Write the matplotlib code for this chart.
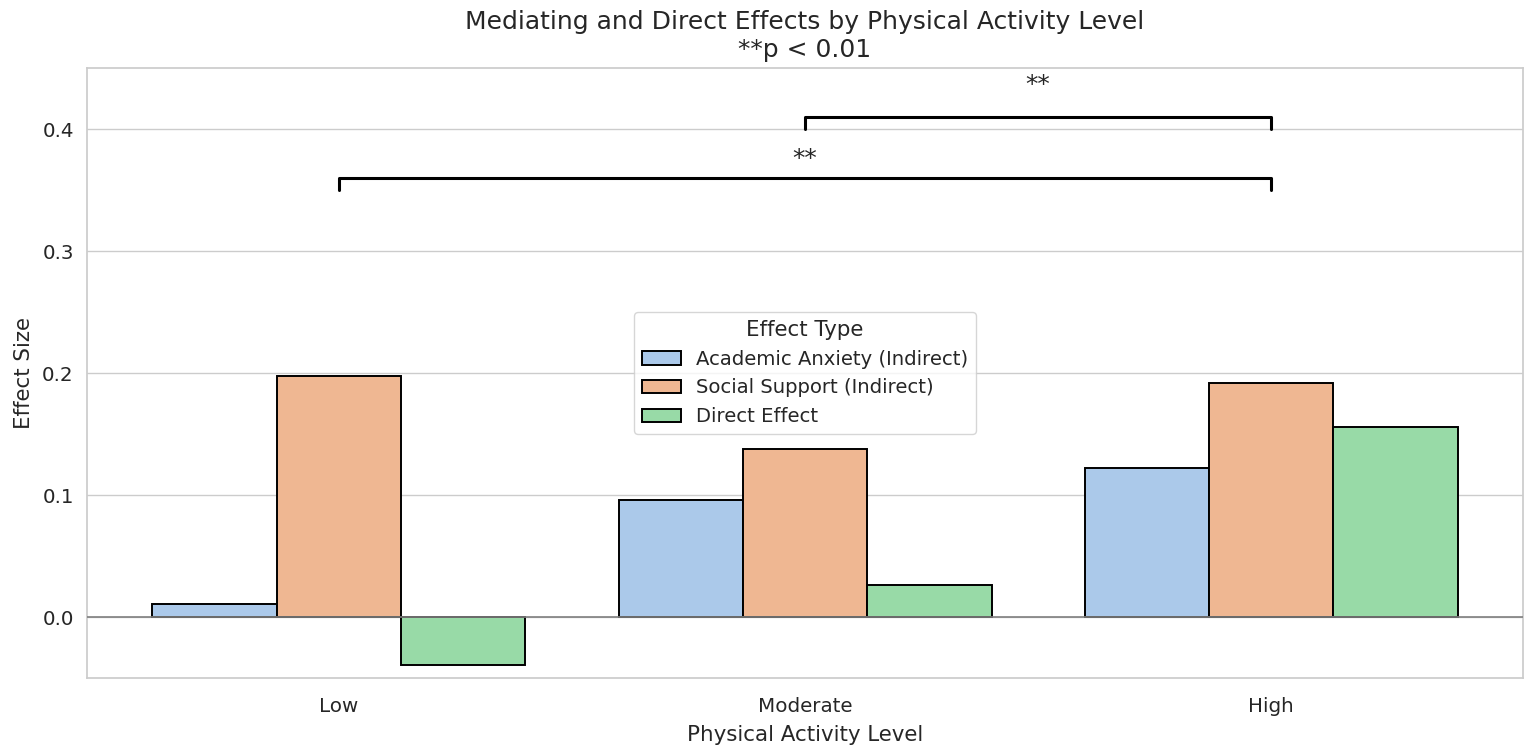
import numpy as np
import matplotlib
matplotlib.use("Agg")
import matplotlib.pyplot as plt
import seaborn as sns

niveles = ["Low", "Moderate", "High"]
efectos = ["Academic Anxiety (Indirect)", "Social Support (Indirect)", "Direct Effect"]
ansiedad = [0.011, 0.096, 0.122]
apoyo = [0.198, 0.138, 0.192]
directo = [-0.039, 0.026, 0.156]

sns.set_theme(style="whitegrid")
plt.rcParams['font.family'] = ['DejaVu Sans']
# barplot de seaborn desatura los colores a 0.75
colores = [sns.desaturate(c, 0.75) for c in sns.color_palette("pastel")]

fig = plt.figure(figsize=(15.35, 7.52), dpi=100)
ax = fig.add_axes([0.0567, 0.0984, 0.9355, 0.811])

x = np.arange(len(niveles))
ancho = 0.8 / 3
for i, (serie, nombre) in enumerate(zip([ansiedad, apoyo, directo], efectos)):
	ax.bar(x + (i - 1) * ancho, serie, width=ancho, color=colores[i], edgecolor="black",
		linewidth=1.4, label=nombre, zorder=3)

ax.axhline(0, color="gray", linewidth=1.2, zorder=4)

# brackets de significancia
def bracket(x1, x2, y, ytexto, h=0.01):
	ax.plot([x1, x1, x2, x2], [y - h, y, y, y - h], color="black", linewidth=2.2, zorder=5)
	ax.text((x1 + x2) / 2, ytexto, "**", ha="center", va="bottom", fontsize=18)

bracket(0, 2, 0.36, 0.366)
bracket(1, 2, 0.41, 0.426)

ax.set_xlim(-0.54, 2.54)
ax.set_ylim(-0.05, 0.45)
ax.set_xticks(x)
ax.set_xticklabels(niveles)
ax.set_yticks([0.0, 0.1, 0.2, 0.3, 0.4])
ax.tick_params(labelsize=14.3)
ax.tick_params(axis="x", pad=8)
ax.set_xlabel("Physical Activity Level", fontsize=15.4, labelpad=6)
ax.set_ylabel("Effect Size", fontsize=15.4, labelpad=6)
ax.set_title("Mediating and Direct Effects by Physical Activity Level\n**p < 0.01", fontsize=18, pad=8)
ax.grid(axis="x", visible=False)
for s in ax.spines.values():
	s.set_color("#cccccc")

leg = ax.legend(title="Effect Type", loc="center", fontsize=14.1, title_fontsize=15.4)

fig.savefig("out.png", dpi=100)
